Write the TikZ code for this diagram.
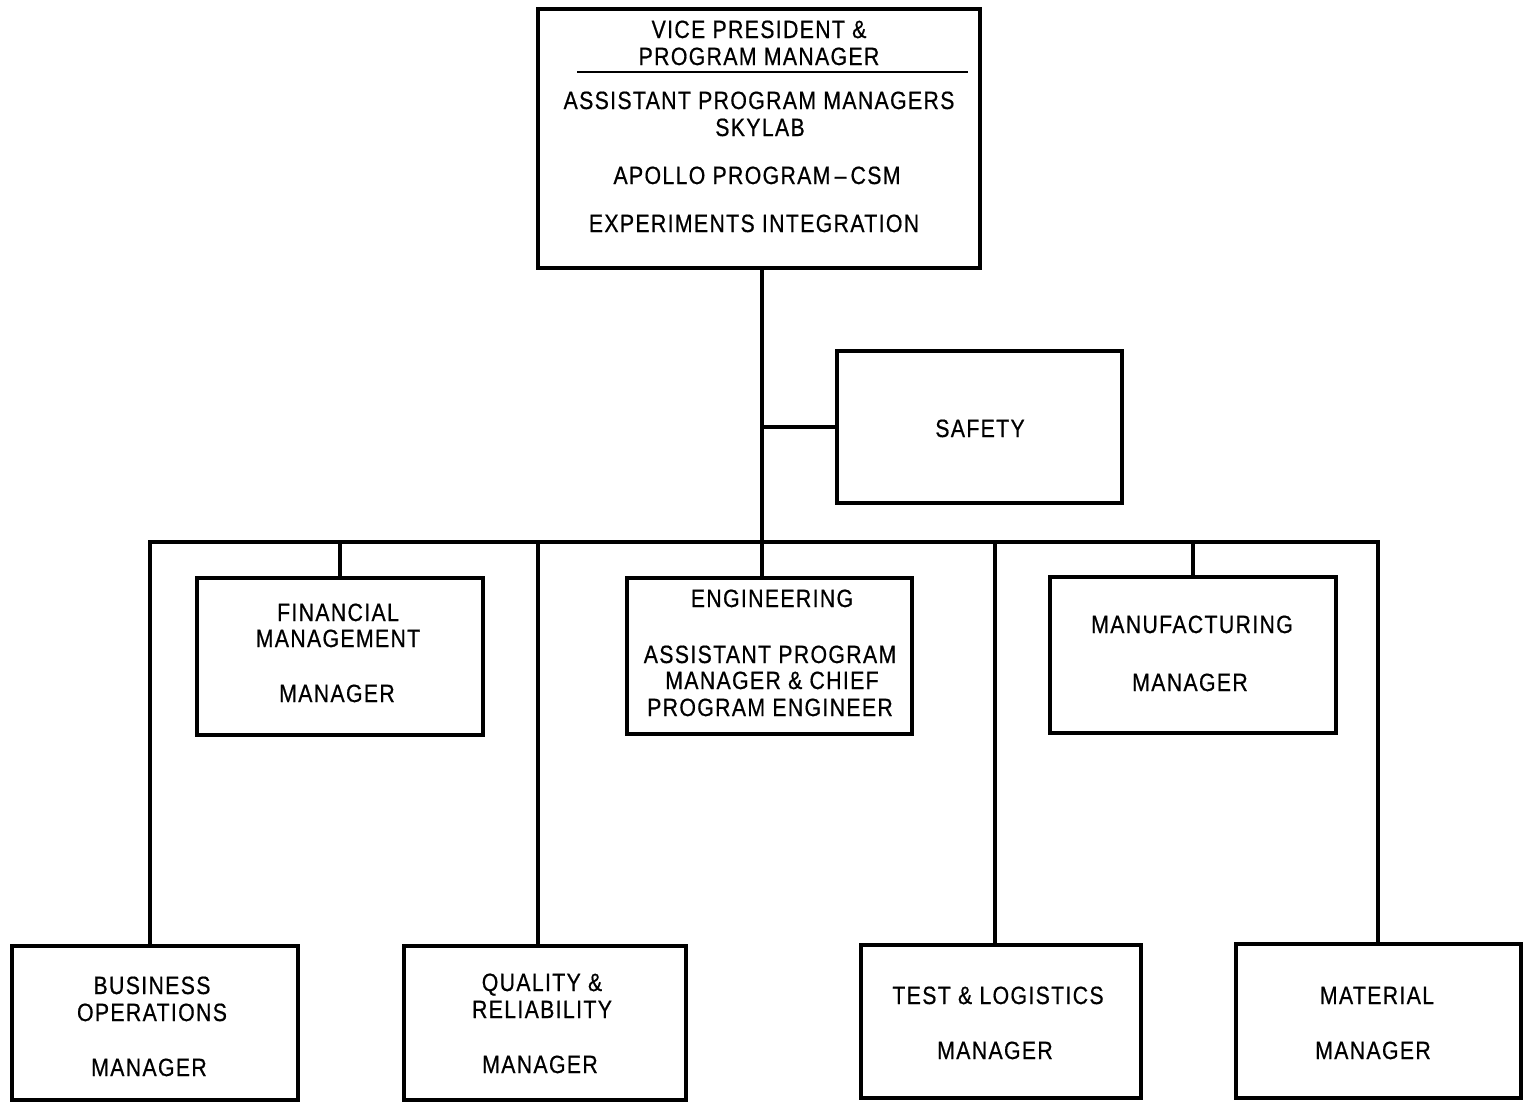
\documentclass[tikz,border=0pt]{standalone}
\usepackage{fontspec}
\setmainfont{Liberation Sans}[FakeStretch=0.85,LetterSpace=5.4,FakeBold=0.6]
\begin{document}
\begin{tikzpicture}[x=0.5pt,y=-0.5pt,
  box/.style={draw, line width=1.6pt, inner sep=0pt},
  lbl/.style={anchor=base, inner sep=0pt, font=\fontsize{12.5}{14}\selectfont},
  wire/.style={line width=1.6pt}]
\useasboundingbox (0,0) rectangle (1524,1103);

% boxes
\node[box, minimum width=221pt, minimum height=129.5pt] (vp) at (759,138.5) {};
\node[box, minimum width=142.5pt, minimum height=76pt] (safety) at (979.5,427) {};
\node[box, minimum width=143pt, minimum height=78.5pt] (fin) at (340,656.5) {};
\node[box, minimum width=142.5pt, minimum height=78pt] (eng) at (769.5,656) {};
\node[box, minimum width=143pt, minimum height=78pt] (mfg) at (1193,655) {};
\node[box, minimum width=143pt, minimum height=77pt] (biz) at (155,1023) {};
\node[box, minimum width=141pt, minimum height=77pt] (qual) at (545,1023) {};
\node[box, minimum width=140pt, minimum height=76.5pt] (test) at (1001,1021.5) {};
\node[box, minimum width=142.5pt, minimum height=77pt] (mat) at (1378.5,1021) {};

% divider under the title of the top box
\draw[line width=1.3pt] (577,72) -- (968,72);

% bus junctions
\coordinate (busL) at (150,542);
\coordinate (busC) at (762,542);
\coordinate (busR) at (1378,542);
\coordinate (busQ) at (538,542);
\coordinate (busT) at (995,542);

% connectors
\draw[wire] (busC |- vp.south) -- (busC);
\draw[wire] (busC |- safety.west) -- (safety.west);
\draw[wire] (busL |- biz.north) -- (busL) -- (busR) -- (busR |- mat.north);
\draw[wire] (busQ) -- (busQ |- qual.north);
\draw[wire] (busT) -- (busT |- test.north);
\draw[wire] (fin.north |- busC) -- (fin.north);
\draw[wire] (busC) -- (busC |- eng.north);
\draw[wire] (mfg.north |- busC) -- (mfg.north);

% labels
\node[lbl] (vp1) at (759,38) {VICE PRESIDENT \&};
\node[lbl] (vp2) at (759,65) {PROGRAM MANAGER};
\node[lbl] (vp3) at (759,109) {ASSISTANT PROGRAM MANAGERS};
\node[lbl] (vp4) at (760,136) {SKYLAB};
\node[lbl] (vp5) at (757,184) {APOLLO PROGRAM\,–\,CSM};
\node[lbl] (vp6) at (754,232) {EXPERIMENTS INTEGRATION};

\node[lbl] (sf1) at (980,437) {SAFETY};

\node[lbl] (fn1) at (338,621) {FINANCIAL};
\node[lbl] (fn2) at (338,647) {MANAGEMENT};
\node[lbl] (fn3) at (337,702) {MANAGER};

\node[lbl] (en1) at (772,607) {ENGINEERING};
\node[lbl] (en2) at (770,663) {ASSISTANT PROGRAM};
\node[lbl] (en3) at (772,689) {MANAGER \& CHIEF};
\node[lbl] (en4) at (770,716) {PROGRAM ENGINEER};

\node[lbl] (mf1) at (1192,633) {MANUFACTURING};
\node[lbl] (mf2) at (1190,691) {MANAGER};

\node[lbl] (bz1) at (152,994) {BUSINESS};
\node[lbl] (bz2) at (152,1021) {OPERATIONS};
\node[lbl] (bz3) at (149,1076) {MANAGER};

\node[lbl] (ql1) at (542,991) {QUALITY \&};
\node[lbl] (ql2) at (542,1018) {RELIABILITY};
\node[lbl] (ql3) at (540,1073) {MANAGER};

\node[lbl] (ts1) at (998,1004) {TEST \& LOGISTICS};
\node[lbl] (ts2) at (995,1059) {MANAGER};

\node[lbl] (mt1) at (1377,1004) {MATERIAL};
\node[lbl] (mt2) at (1373,1059) {MANAGER};
\end{tikzpicture}
\end{document}
